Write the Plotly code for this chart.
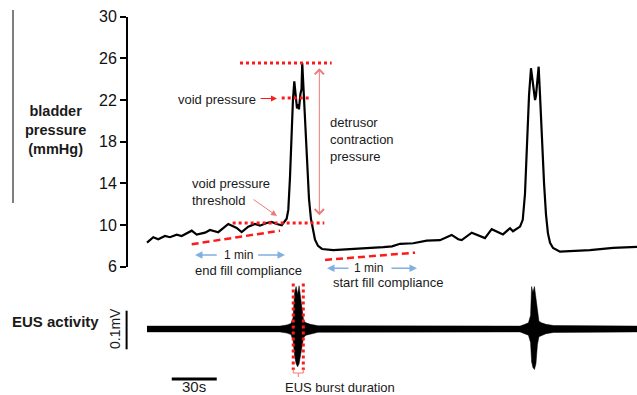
import plotly.graph_objects as go

W, H = 637, 395
FONT = "Arial, Liberation Sans, sans-serif"

# ---- bladder pressure trace: time (s) and pressure (mmHg) ----
time_s = [0, 4.2, 7.5, 12, 15.3, 19.8, 23.1, 29.8, 33.1, 38.7, 42, 47.5, 54.2,
          59.8, 63.1, 67.5, 72, 75.3, 79.8, 83.1, 86.5, 89.8, 93.1, 94.2, 95.3,
          96.3, 97.3, 98.2, 99, 100, 100.7, 101.3, 102.3, 103, 103.5, 104.2,
          105.3, 106.7, 108, 109.3, 110.7, 112, 114, 116.7, 124.2, 135.3,
          146.5, 157.5, 163.3, 168.7, 177.5, 186.5, 195.3, 203.1, 207.5, 209.8,
          216.5, 225.3, 229.8, 237.3, 242, 244, 248.7, 250.5, 252, 253.3, 254.7,
          256, 257.3, 258.7, 259.3, 260, 261.1, 262, 263.3, 264.7, 266, 267.3,
          268.7, 270.7, 275.3, 295.3, 310.7, 326.7]
pressure_mmhg = [8.31, 8.83, 8.64, 8.95, 8.83, 9.08, 8.95, 9.46, 9.08, 9.27, 9.53,
                 9.31, 10.1, 9.72, 9.33, 9.84, 10.1, 9.94, 10.2, 10.3, 10.1, 9.98,
                 10.6, 11.45, 14.5, 18.5, 22.0, 23.8, 22.6, 21.2, 21.6, 21.1, 22.6,
                 23.0, 25.55, 23.5, 19.5, 15.5, 12.5, 10.6, 9.5, 8.6, 8.0, 7.7,
                 7.6, 7.67, 7.77, 7.87, 7.95, 8.2, 8.25, 8.5, 8.55, 9.05, 8.64,
                 8.55, 9.27, 8.75, 9.6, 9.1, 9.7, 9.4, 9.85, 10.5, 13.0, 18.0,
                 22.5, 25.05, 23.5, 22.0, 22.4, 23.8, 25.2, 22.5, 18.0, 14.0,
                 11.0, 9.2, 8.3, 7.8, 7.45, 7.6, 7.8, 7.9]

# ---- EUS EMG envelope: time (s), upper / lower excursion (mV) ----
eus_time_s = [0, 88.7, 93.3, 96, 97.4, 98.4, 99.4, 100.4, 101.4, 102.4, 103.4,
              104.4, 106, 109, 114, 248.7, 251.5, 254.3, 255.7, 256.4, 257.3,
              258.3, 259.3, 260.3, 261.3, 263, 266, 271, 326.7]
eus_upper_mv = [0.0075, 0.0075, 0.0105, 0.0145, 0.03, 0.095, 0.11, 0.09, 0.112,
                0.085, 0.05, 0.022, 0.016, 0.012, 0.0085, 0.0075, 0.0115, 0.016,
                0.035, 0.11, 0.095, 0.11, 0.08, 0.04, 0.02, 0.016, 0.012,
                0.009, 0.0075]
eus_lower_mv = [0.0075, 0.0075, 0.0105, 0.0145, 0.03, 0.07, 0.09, 0.098, 0.09,
                0.075, 0.045, 0.022, 0.016, 0.012, 0.0085, 0.0075, 0.0115, 0.016,
                0.035, 0.085, 0.1, 0.105, 0.09, 0.04, 0.02, 0.016, 0.012,
                0.009, 0.0075]

pressure_ticks = [6, 10, 14, 18, 22, 26, 30]

# ---- measured quantities marked on the trace ----
void_threshold = 10.2
void_pressure = 22.2
peak_pressure = 25.55
end_fill_t, end_fill_p = [29.8, 88.7], [8.16, 9.46]
start_fill_t, start_fill_p = [118.7, 178.7], [6.65, 7.35]
end_fill_window = (32, 92)        # 1 min
start_fill_window = (120, 180)    # 1 min
burst_start, burst_end = 97.5, 104.2
time_bar = (16.5, 46.5)           # 30 s
volt_bar = 0.1                    # mV

# ---- geometry helpers (pixel -> paper / axis units) ----
def px(x):
    return x / W

def py(y):
    return 1 - y / H

Y_TOP, Y_BOT = 16.7, 266.7          # pixel rows of 30 and 6 mmHg

def pp(y):
    return 30 - (y - Y_TOP) * 24 / (Y_BOT - Y_TOP)

PX_PER_S = 1.5
T_ORIGIN = 147
x_range = [-T_ORIGIN / PX_PER_S, (W - T_ORIGIN) / PX_PER_S]
EUS_BASE, PX_PER_MV, EUS_TOP = 329, 386, 262
eus_range = [-(H - EUS_BASE) / PX_PER_MV, (EUS_BASE - EUS_TOP) / PX_PER_MV]

def pe(y):
    return (EUS_BASE - y) / PX_PER_MV

RED = "#ff1a1a"
PINK = "#f07a7a"
BLUE = "#7fb0e0"

fig = go.Figure()

# bladder pressure
fig.add_trace(go.Scatter(x=time_s, y=pressure_mmhg, mode="lines",
                         line=dict(color="black", width=2.2), yaxis="y"))

# EUS activity band
band_x = eus_time_s + eus_time_s[::-1]
band_y = eus_upper_mv + [-v for v in eus_lower_mv[::-1]]
fig.add_trace(go.Scatter(x=band_x, y=band_y, mode="lines", fill="toself",
                         fillcolor="black", line=dict(color="black", width=0.5),
                         yaxis="y2"))

# threshold / void / peak markers
dotted = dict(color=RED, width=3, dash="dot")
fig.add_trace(go.Scatter(x=[57.1, 118.2], y=[void_threshold] * 2, mode="lines",
                         line=dotted, yaxis="y"))
fig.add_trace(go.Scatter(x=[89.8, 108.7], y=[void_pressure] * 2, mode="lines",
                         line=dotted, yaxis="y"))
fig.add_trace(go.Scatter(x=[62, 123.1], y=[peak_pressure] * 2, mode="lines",
                         line=dotted, yaxis="y"))

# compliance slopes
dashed = dict(color=RED, width=2.5, dash="7px,4px")
fig.add_trace(go.Scatter(x=end_fill_t, y=end_fill_p, mode="lines",
                         line=dashed, yaxis="y"))
fig.add_trace(go.Scatter(x=start_fill_t, y=start_fill_p, mode="lines",
                         line=dashed, yaxis="y"))

# EUS burst window
for tb in (burst_start, burst_end):
    fig.add_trace(go.Scatter(x=[tb, tb], y=[0.118, -0.106], mode="lines",
                             line=dotted, yaxis="y2"))

# scale bars
vb_lo = -0.0526
fig.add_trace(go.Scatter(x=[-13.6, -13.6], y=[vb_lo, vb_lo + volt_bar],
                         mode="lines", line=dict(color="black", width=2),
                         yaxis="y2"))
fig.add_trace(go.Scatter(x=list(time_bar), y=[-0.1295, -0.1295], mode="lines",
                         line=dict(color="black", width=3), yaxis="y2"))

ann = []

def label(text, x, y, size=13, bold=False, **kw):
    t = f"<b>{text}</b>" if bold else text
    d = dict(text=t, x=px(x), y=py(y), xref="paper", yref="paper",
             xanchor="center", yanchor="middle", showarrow=False,
             font=dict(family=FONT, size=size, color="#1a1a1a"))
    d.update(kw)
    ann.append(d)

label("bladder<br>pressure<br>(mmHg)", 55, 130, size=14.5, bold=True)
label("EUS activity", 55, 321, size=15, bold=True)
label("0.1mV", 115, 329, size=14, textangle=-90)
label("void pressure", 216.7, 99)
label("void pressure<br>threshold", 190, 192, xanchor="left", align="left")
label("detrusor<br>contraction<br>pressure", 328, 139.5, xanchor="left",
      align="left")
label("1 min", 238, 255, size=12)
label("end fill compliance", 248.3, 270.5)
label("1 min", 368, 268.3, size=12)
label("start fill compliance", 388.3, 282)
label("EUS burst duration", 340, 387)
label("30s", 194, 386.5, size=15)

# red pointer arrows (tail given as pixel offset from the head)
ann.append(dict(x=px(277), y=py(98.5), ax=-18, ay=0,
                xref="paper", yref="paper", axref="pixel", ayref="pixel",
                text="", showarrow=True, arrowhead=2, arrowsize=1.2,
                arrowwidth=1, arrowcolor=RED))
ann.append(dict(x=px(277), y=py(216), ax=-25, ay=-17.5,
                xref="paper", yref="paper", axref="pixel", ayref="pixel",
                text="", showarrow=True, arrowhead=2, arrowsize=1.2,
                arrowwidth=1, arrowcolor=PINK))

# detrusor contraction pressure span
ann.append(dict(x=114.9, y=25.05, ax=114.9, ay=10.8, xref="x", yref="y",
                axref="x", ayref="y", text="", showarrow=True,
                arrowside="end+start", arrowhead=4, startarrowhead=4,
                arrowsize=1.8, startarrowsize=1.8, arrowwidth=1,
                arrowcolor=PINK))

# 1-min window arrows, split around their "1 min" label
def window_arrows(win, yv, yref, gap_l, gap_r):
    lo, hi = win
    for head, tail in ((lo, gap_l), (hi, gap_r)):
        ann.append(dict(x=head, y=yv, ax=tail, ay=yv, xref="x", yref=yref,
                        axref="x", ayref=yref, text="", showarrow=True,
                        arrowhead=2, arrowsize=1, arrowwidth=1.5,
                        arrowcolor=BLUE))

window_arrows(end_fill_window, pp(255), "y", 47.5, 73.1)
window_arrows(start_fill_window, pe(268.3), "y2", 135.3, 162)

shapes = [
    # bracket under the EUS burst window
    dict(type="path", xref="x", yref="paper",
         path=(f"M{burst_start},{py(369)} L{burst_start},{py(373)} "
               f"L{burst_end},{py(373)} L{burst_end},{py(369)} "
               f"M{(burst_start + burst_end) / 2},{py(373)} "
               f"L{(burst_start + burst_end) / 2},{py(377)}"),
         line=dict(color=PINK, width=1)),
    # grouping line beside the pressure panel
    dict(type="line", xref="paper", yref="paper", x0=px(13), x1=px(13),
         y0=py(10), y1=py(203), line=dict(color="#555555", width=1.5)),
]

fig.update_layout(
    width=W, height=H,
    margin=dict(l=0, r=0, t=0, b=0, autoexpand=False),
    paper_bgcolor="white", plot_bgcolor="rgba(0,0,0,0)", showlegend=False,
    hovermode=False,
    xaxis=dict(domain=[0, 1], range=x_range, visible=False, fixedrange=True),
    yaxis=dict(domain=[py(Y_BOT), py(Y_TOP)], range=[6, 30], anchor="free",
               position=px(127), tickvals=pressure_ticks, ticks="outside",
               ticklen=6, tickwidth=2, tickcolor="black", showline=True,
               linewidth=2, linecolor="black", showgrid=False, zeroline=False,
               automargin=False,
               tickfont=dict(family=FONT, size=16, color="#111111")),
    yaxis2=dict(domain=[0, py(EUS_TOP)], range=eus_range, visible=False,
                anchor="x"),
    annotations=ann, shapes=shapes,
)

fig.write_html("out.html")
